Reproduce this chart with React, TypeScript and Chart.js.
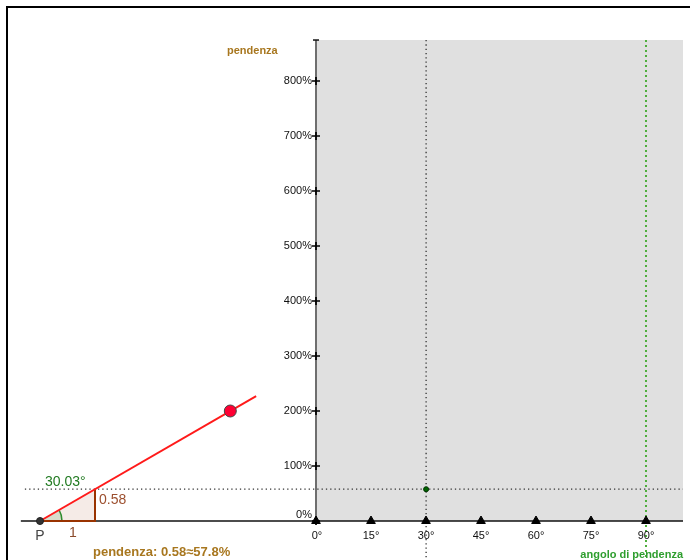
import React, { useEffect, useRef } from "react";
import { Chart, registerables } from "chart.js";

Chart.register(...registerables);

// ---- data ----
const angleTicks = [0, 15, 30, 45, 60, 75, 90];
const percentTicks = [0, 100, 200, 300, 400, 500, 600, 700, 800];
const slopeValue = 0.578;
const slopeAngle = 30.03;
const slopePercent = 57.8;
const pointP = [0, 0];
const runPoint = [1, 0];
const risePoint = [1, slopeValue];
const handlePoint = [3.46, 2.0];
const rayEnd = [3.93, 2.27];
const maxAngle = 90;
const viewTopPercent = 874.5;
const viewRightAngle = 100.1;
const viewLeftAngle = -80.5;
const guideLeftAngle = -79.4;
const viewBottomPercent = -71;

const labelAngle = "30.03°";
const labelRise = "0.58";
const labelRun = "1";
const labelP = "P";
const labelSlope = "pendenza: 0.58≈57.8%";
const labelYAxis = "pendenza";
const labelXAxis = "angolo di pendenza";

const FONT = "'Liberation Sans', Arial, Helvetica, sans-serif";

const pt = (x: number, y: number) => ({ x, y });

export default function App() {
  const ref = useRef<HTMLCanvasElement | null>(null);

  useEffect(() => {
    document.body.style.margin = "0";
    const canvas = ref.current;
    if (!canvas) return;

    const overlay = {
      id: "overlay",
      afterDatasetDraw(chart: any, args: any) {
        if (args.meta && args.meta.label === "triangleFill") {
          const { ctx, scales } = chart;
          const cx = scales.gx.getPixelForValue(pointP[0]);
          const cy = scales.gy.getPixelForValue(pointP[1]);
          const r = 22;
          const a = (slopeAngle * Math.PI) / 180;
          ctx.save();
          ctx.beginPath();
          ctx.moveTo(cx, cy);
          ctx.arc(cx, cy, r, 0, -a, true);
          ctx.closePath();
          ctx.fillStyle = "rgba(0,110,0,0.12)";
          ctx.fill();
          ctx.beginPath();
          ctx.arc(cx, cy, r, 0, -a, true);
          ctx.strokeStyle = "#2e8b2e";
          ctx.lineWidth = 1.5;
          ctx.stroke();
          ctx.restore();
        }
      },
      afterDraw(chart: any) {
        const { ctx, scales } = chart;
        const sx = (v: number) => scales.x.getPixelForValue(v);
        const sy = (v: number) => scales.y.getPixelForValue(v);
        const gx = (v: number) => scales.gx.getPixelForValue(v);
        const gy = (v: number) => scales.gy.getPixelForValue(v);
        ctx.save();
        // frame
        ctx.strokeStyle = "#000";
        ctx.lineWidth = 2;
        ctx.beginPath();
        ctx.moveTo(7, 560);
        ctx.lineTo(7, 7);
        ctx.lineTo(690, 7);
        ctx.stroke();

        // y tick labels
        ctx.font = `11px ${FONT}`;
        ctx.fillStyle = "#111";
        ctx.textAlign = "right";
        ctx.textBaseline = "middle";
        const ax = sx(0);
        percentTicks.forEach((t) => {
          const y = sy(t) - (t === 0 ? 6 : 0);
          ctx.fillText(`${t}%`, ax - 4, y);
        });
        // x tick labels
        ctx.textAlign = "center";
        angleTicks.forEach((t) => {
          ctx.fillText(`${t}°`, sx(t) + (t === 0 ? 1 : 0), sy(0) + 15);
        });

        // axis titles
        ctx.font = `bold 11px ${FONT}`;
        ctx.fillStyle = "#a8771f";
        ctx.textAlign = "left";
        ctx.fillText(labelYAxis, ax - 89, sy(viewTopPercent) + 11);
        ctx.fillStyle = "#2e9e2e";
        ctx.textAlign = "right";
        ctx.fillText(labelXAxis, sx(viewRightAngle), sy(0) + 34);

        // geometry labels
        const px = gx(pointP[0]);
        const py = gy(pointP[1]);
        ctx.font = `14px ${FONT}`;
        ctx.textAlign = "left";
        ctx.fillStyle = "#217a21";
        ctx.fillText(labelAngle, px + 5, py - 39);
        ctx.fillStyle = "#9c4f2e";
        ctx.fillText(labelRise, gx(runPoint[0]) + 4, gy(risePoint[1] / 2) - 5);
        ctx.fillStyle = "#8b4a2b";
        ctx.textAlign = "center";
        ctx.fillText(labelRun, px + 33, py + 12);
        ctx.fillStyle = "#444";
        ctx.fillText(labelP, px, py + 15);
        ctx.font = `bold 13px ${FONT}`;
        ctx.fillStyle = "#a8771f";
        ctx.textAlign = "left";
        ctx.fillText(labelSlope, px + 53, py + 31);
        ctx.restore();
      },
    };

    const line = (
      label: string,
      data: { x: number; y: number }[],
      color: string,
      width: number,
      order: number,
      extra: any = {}
    ) => ({
      label,
      data,
      showLine: true,
      borderColor: color,
      borderWidth: width,
      pointRadius: 0,
      fill: false,
      tension: 0,
      order,
      ...extra,
    });

    const chart = new Chart(canvas, {
      type: "scatter",
      data: {
        datasets: [
          line(
            "background",
            [pt(0, viewTopPercent), pt(viewRightAngle, viewTopPercent)],
            "rgba(0,0,0,0)",
            0,
            100,
            { fill: "origin", backgroundColor: "#e0e0e0" }
          ),
          line(
            "guideH",
            [pt(guideLeftAngle, slopePercent), pt(viewRightAngle, slopePercent)],
            "#333",
            1.3,
            90,
            { borderDash: [1.3, 3] }
          ),
          line(
            "guideV",
            [pt(slopeAngle, viewTopPercent), pt(slopeAngle, viewBottomPercent)],
            "#333",
            1.3,
            90,
            { borderDash: [1.3, 3] }
          ),
          line(
            "limit90",
            [pt(maxAngle, viewTopPercent), pt(maxAngle, viewBottomPercent)],
            "#4fae3c",
            2,
            89,
            { borderDash: [2, 3] }
          ),
          line("yAxis", [pt(0, 0), pt(0, viewTopPercent)], "#6e6e6e", 2, 80),
          line("xAxis", [pt(viewLeftAngle, 0), pt(viewRightAngle, 0)], "#111", 1.5, 79),
          {
            label: "yTicks",
            data: percentTicks.map((t) => pt(0, t)),
            pointStyle: "cross",
            pointRadius: 4,
            borderColor: "#000",
            borderWidth: 1.7,
            order: 70,
          },
          {
            label: "yTop",
            data: [pt(0, viewTopPercent)],
            pointStyle: "line",
            pointRadius: 3,
            borderColor: "#111",
            borderWidth: 1.5,
            order: 70,
          },
          {
            label: "xTicks",
            data: angleTicks.map((t) => pt(t, 0)),
            pointStyle: "triangle",
            pointRadius: 5,
            backgroundColor: "#000",
            borderColor: "#000",
            borderWidth: 1,
            order: 69,
          },
          line(
            "triangleFill",
            [pt(pointP[0], pointP[1]), pt(risePoint[0], risePoint[1])],
            "rgba(0,0,0,0)",
            0,
            60,
            {
              fill: "origin",
              backgroundColor: "rgba(153,60,20,0.1)",
              xAxisID: "gx",
              yAxisID: "gy",
            }
          ),
          line(
            "triangleEdges",
            [
              pt(pointP[0], pointP[1]),
              pt(runPoint[0], runPoint[1]),
              pt(risePoint[0], risePoint[1]),
            ],
            "#993300",
            2,
            50,
            { xAxisID: "gx", yAxisID: "gy" }
          ),
          line(
            "ray",
            [pt(pointP[0], pointP[1]), pt(rayEnd[0], rayEnd[1])],
            "#ff1a1a",
            2,
            40,
            { xAxisID: "gx", yAxisID: "gy" }
          ),
          {
            label: "handle",
            data: [pt(handlePoint[0], handlePoint[1])],
            pointRadius: 6,
            backgroundColor: "#ff0033",
            borderColor: "#444",
            borderWidth: 1,
            xAxisID: "gx",
            yAxisID: "gy",
            order: 10,
          },
          {
            label: "P",
            data: [pt(pointP[0], pointP[1])],
            pointRadius: 3.5,
            backgroundColor: "#333",
            borderColor: "#222",
            borderWidth: 1,
            xAxisID: "gx",
            yAxisID: "gy",
            order: 10,
          },
          {
            label: "slopePoint",
            data: [pt(slopeAngle, slopePercent)],
            pointRadius: 2.5,
            backgroundColor: "#006400",
            borderColor: "#003300",
            borderWidth: 1,
            order: 5,
          },
        ] as any,
      },
      options: {
        animation: false,
        responsive: false,
        events: [],
        layout: { padding: 0, autoPadding: false },
        plugins: {
          legend: { display: false },
          tooltip: { enabled: false },
        },
        scales: {
          x: { type: "linear", display: false, min: -316 / (55 / 15), max: (690 - 316) / (55 / 15) },
          y: { type: "linear", display: false, min: -(560 - 521) / 0.55, max: 521 / 0.55 },
          gx: { type: "linear", display: false, min: -40 / 55, max: 650 / 55 },
          gy: { type: "linear", display: false, min: -(560 - 521) / 55, max: 521 / 55 },
        },
      },
      plugins: [overlay],
    } as any);

    return () => chart.destroy();
  }, []);

  return (
    <div style={{ width: 690, height: 560 }}>
      <canvas ref={ref} width={690} height={560} />
    </div>
  );
}
